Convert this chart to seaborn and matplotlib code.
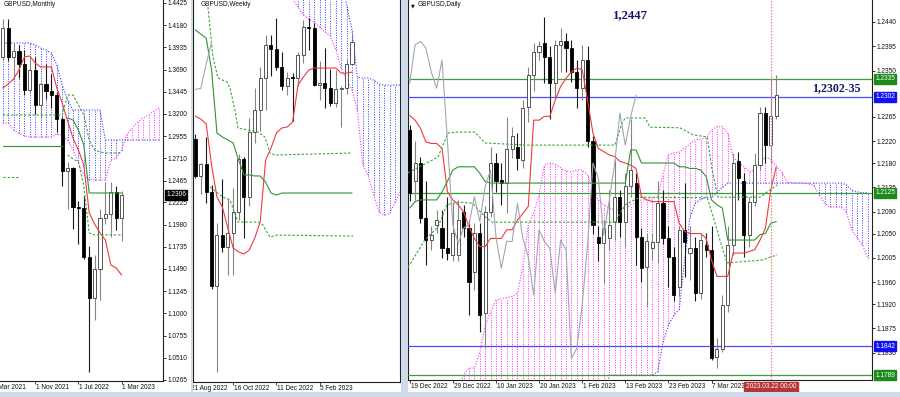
import numpy as np
import matplotlib
matplotlib.use("Agg")
import matplotlib.pyplot as plt
from matplotlib.patches import Rectangle
import seaborn as sns

sns.set_style("white")
plt.rcParams["font.family"] = ["Liberation Sans", "DejaVu Sans"]

W, H = 900, 397

# ======================= MONTHLY (May 2021 .. Mar 2023) =======================
m_open  = [1.3830, 1.4150, 1.3830, 1.3900, 1.3750, 1.3470, 1.3690, 1.3300, 1.3530, 1.3450, 1.3410, 1.3140,
           1.2570, 1.2600, 1.2170, 1.2165, 1.1620, 1.1170, 1.1490, 1.2050, 1.2100, 1.2340, 1.2050]
m_high  = [1.4250, 1.4250, 1.3985, 1.3960, 1.3910, 1.3830, 1.3830, 1.3550, 1.3750, 1.3640, 1.3440, 1.3170,
           1.2670, 1.2620, 1.2245, 1.2295, 1.1740, 1.1645, 1.2155, 1.2445, 1.2450, 1.2400, 1.2345]
m_low   = [1.3800, 1.3786, 1.3570, 1.3600, 1.3410, 1.3430, 1.3195, 1.3160, 1.3360, 1.3270, 1.3000, 1.2410,
           1.2155, 1.1930, 1.1760, 1.1600, 1.0350, 1.0925, 1.1145, 1.1990, 1.1840, 1.1915, 1.1800]
m_close = [1.4150, 1.3830, 1.3900, 1.3750, 1.3470, 1.3690, 1.3300, 1.3530, 1.3450, 1.3410, 1.3140, 1.2570,
           1.2600, 1.2170, 1.2165, 1.1620, 1.1170, 1.1490, 1.2050, 1.2100, 1.2340, 1.2050, 1.2306]
m_tenkan = [1.3487, 1.3531, 1.3586, 1.3686, 1.3829, 1.3840, 1.3763, 1.3719, 1.3719, 1.3719, 1.3487, 1.3321,
            1.3123, 1.2935, 1.2803, 1.2637, 1.2110, 1.1986, 1.1887, 1.1809, 1.1534, 1.1501, 1.1423]
m_kijun_a = [1.2847, 1.2847, 1.2847, 1.2847, 1.2847, 1.2847, 1.2847, 1.2847, 1.2847, 1.2847, 1.2847, 1.2847]
m_kijun_b = [1.3156, 1.3134, 1.3023, 1.2858, 1.2328, 1.2328, 1.2328, 1.2328, 1.2328, 1.2328, 1.2328]
m_dash1 = [1.3189, 1.3189, 1.3189, 1.3189, 1.3189, 1.3189, 1.3189, 1.3189, 1.3189, 1.3189, 1.3189, 1.3189,
           1.3410, 1.3410, 1.3299, 1.3189, 1.2913, 1.2803, 1.2781, 1.2770, 1.2770, 1.2770, 1.2770]
m_dash2a = [1.2505, 1.2505, 1.2505, 1.2505]
m_dash2b = [1.2748, 1.2704, 1.2670, 1.2410, 1.1887, 1.1865, 1.1865, 1.1865, 1.1865, 1.1865, 1.1865]
m_span_a = [1.3101, 1.3101, 1.3023, 1.2990, 1.2957, 1.2946, 1.2946, 1.2946, 1.2946, 1.2946, 1.2979, 1.2957,
            1.2913, 1.2803, 1.2659, 1.2527, 1.2472, 1.2472, 1.2472, 1.2472, 1.2692, 1.2714, 1.2803, 1.2979,
            1.3046, 1.3112, 1.3156, 1.3189, 1.3233, 1.3266]
m_span_b = [1.3983, 1.3983, 1.3983, 1.3983, 1.3983, 1.3983, 1.3961, 1.3928, 1.3906, 1.3873, 1.3741, 1.3520,
            1.3355, 1.3244, 1.3244, 1.3244, 1.3244, 1.3244, 1.3244, 1.2913, 1.2913, 1.2913, 1.2913, 1.2913,
            1.2913, 1.2913, 1.2913, 1.2913, 1.2913, 1.2913]
m_yticks = [1.4425, 1.4180, 1.3935, 1.3690, 1.3445, 1.3200, 1.2955, 1.2710, 1.2465, 1.2225,
            1.1980, 1.1735, 1.1490, 1.1245, 1.1000, 1.0755, 1.0510, 1.0265]
m_xtick_pos = [-2, 6, 14, 22]
m_xtick_lab = ["1 Mar 2021", "1 Nov 2021", "1 Jul 2022", "1 Mar 2023"]
m_last = 1.2306

# ======================= WEEKLY (28 Aug 2022 .. 19 Mar 2023) =======================
w_open  = [1.1730, 1.1510, 1.1585, 1.1415, 1.0860, 1.1160, 1.1090, 1.1175, 1.1300, 1.1610, 1.1385, 1.1770,
           1.1900, 1.2090, 1.2285, 1.2265, 1.2160, 1.2045, 1.2095, 1.2090, 1.2230, 1.2395, 1.2390, 1.2050,
           1.2062, 1.2030, 1.1945, 1.2025, 1.2030, 1.2175]
w_high  = [1.1760, 1.1590, 1.1740, 1.1460, 1.1235, 1.1495, 1.1380, 1.1440, 1.1645, 1.1625, 1.1855, 1.2030,
           1.2155, 1.2345, 1.2345, 1.2447, 1.2245, 1.2125, 1.2120, 1.2245, 1.2435, 1.2450, 1.2418, 1.2195,
           1.2270, 1.2145, 1.2140, 1.2045, 1.2205, 1.2345]
w_low   = [1.1500, 1.1405, 1.1350, 1.0840, 1.0350, 1.1060, 1.0925, 1.0925, 1.1250, 1.1145, 1.1335, 1.1710,
           1.1780, 1.1900, 1.2105, 1.2140, 1.2020, 1.1990, 1.1840, 1.2045, 1.2180, 1.2260, 1.2045, 1.1960,
           1.1915, 1.1925, 1.1920, 1.1800, 1.1995, 1.2170]
w_close = [1.1510, 1.1585, 1.1415, 1.0860, 1.1160, 1.1090, 1.1175, 1.1300, 1.1610, 1.1385, 1.1770, 1.1900,
           1.2090, 1.2285, 1.2265, 1.2160, 1.2045, 1.2095, 1.2090, 1.2230, 1.2395, 1.2390, 1.2050, 1.2062,
           1.2030, 1.1945, 1.2025, 1.2030, 1.2175, 1.2306]
w_tenkan = [1.1867, 1.1849, 1.1820, 1.1577, 1.1387, 1.1328, 1.1204, 1.1085, 1.1062, 1.1050, 1.1074, 1.1145,
            1.1239, 1.1606, 1.1677, 1.1766, 1.1796, 1.1802, 1.1831, 1.2050, 1.2098, 1.2139, 1.2151, 1.2151,
            1.2151, 1.2151, 1.2151, 1.2121, 1.2121, 1.2127]
w_kijun = [1.2376, 1.2352, 1.2329, 1.2139, 1.1766, 1.1743, 1.1725, 1.1707, 1.1606, 1.1518, 1.1518, 1.1512,
           1.1512, 1.1476, 1.1411, 1.1399, 1.1411, 1.1411, 1.1411, 1.1411, 1.1411, 1.1411, 1.1411, 1.1411,
           1.1411, 1.1411, 1.1411, 1.1411, 1.1411, 1.1411]
w_dash1_x = [2.33, 3.26, 4.19, 5.85, 6.41, 7.33, 7.89, 9.74, 11.6, 12.9, 13.8, 14.7, 29.0]
w_dash1_y = [1.2512, 1.2216, 1.2092, 1.2068, 1.2033, 1.1902, 1.1796, 1.1784, 1.1772, 1.1742, 1.1648, 1.1636, 1.1648]
w_dash2_x = [2.7, 5.1, 6.4, 7.9, 11.6, 12.5, 13.8, 15.1, 29.2]
w_dash2_y = [1.1447, 1.1387, 1.1370, 1.1239, 1.1239, 1.1222, 1.1151, 1.1162, 1.1156]
w_span_a = [1.2700, 1.2700, 1.2700, 1.2700, 1.2700, 1.2700, 1.2700, 1.2700, 1.2700, 1.2700, 1.2700, 1.2700,
            1.2700, 1.2700, 1.2700, 1.2700, 1.2700, 1.2700, 1.2560, 1.2512, 1.2465, 1.2441, 1.2423, 1.2394,
            1.2364, 1.2340, 1.2260, 1.2151, 1.2080, 1.2021, 1.1902, 1.1577, 1.1515, 1.1400, 1.1300, 1.1281,
            1.1290, 1.1360, 1.1420]
w_span_b = [1.2900, 1.2900, 1.2900, 1.2900, 1.2900, 1.2900, 1.2900, 1.2900, 1.2900, 1.2900, 1.2900, 1.2900,
            1.2900, 1.2900, 1.2900, 1.2900, 1.2900, 1.2900, 1.2700, 1.2700, 1.2700, 1.2700, 1.2700, 1.2700,
            1.2700, 1.2700, 1.2700, 1.2700, 1.2524, 1.2376, 1.2098, 1.2092, 1.2092, 1.2080, 1.2056, 1.2050,
            1.2050, 1.2050, 1.2050]
w_xtick_pos = [-1, 7, 15, 23]
w_xtick_lab = ["21 Aug 2022", "16 Oct 2022", "11 Dec 2022", "5 Feb 2023"]

# ======================= DAILY (19 Dec 2022 .. 23 Mar 2023) =======================
d_open  = [1.2241, 1.2146, 1.2180, 1.2078, 1.2038, 1.2066, 1.2060, 1.2023, 1.2011, 1.2011,
           1.2090, 1.2060, 1.1980, 1.2051, 1.1903, 1.2090, 1.2180, 1.2149, 1.2143, 1.2205,
           1.2210, 1.2186, 1.2284, 1.2342, 1.2385, 1.2401, 1.2376, 1.2327, 1.2398, 1.2404,
           1.2392, 1.2348, 1.2318, 1.2370, 1.2220, 1.2044, 1.2032, 1.2041, 1.2072, 1.2118,
           1.2072, 1.2137, 1.2143, 1.2044, 1.1989, 1.2023, 1.2035, 1.2106, 1.2041, 1.2007,
           1.1952, 1.2057, 1.2014, 1.2023, 1.1940, 1.2029, 1.2020, 1.1823, 1.1838, 1.1918,
           1.2029, 1.2183, 1.2146, 1.2047, 1.2109, 1.2177, 1.2272, 1.2213, 1.2266]
d_high  = [1.2250, 1.2220, 1.2192, 1.2146, 1.2063, 1.2093, 1.2093, 1.2118, 1.2106, 1.2112,
           1.2103, 1.2075, 1.2069, 1.2069, 1.2100, 1.2210, 1.2198, 1.2180, 1.2265, 1.2247,
           1.2235, 1.2296, 1.2357, 1.2401, 1.2404, 1.2450, 1.2395, 1.2407, 1.2428, 1.2419,
           1.2407, 1.2370, 1.2398, 1.2395, 1.2230, 1.2063, 1.2075, 1.2130, 1.2186, 1.2130,
           1.2161, 1.2262, 1.2161, 1.2060, 1.2051, 1.2051, 1.2146, 1.2130, 1.2063, 1.2026,
           1.2063, 1.2143, 1.2063, 1.2044, 1.2051, 1.2051, 1.2063, 1.1857, 1.1937, 1.2063,
           1.2198, 1.2201, 1.2161, 1.2118, 1.2198, 1.2284, 1.2284, 1.2337, 1.2343]
d_low   = [1.2110, 1.2112, 1.2069, 1.1992, 1.2020, 1.2051, 1.2005, 1.2002, 1.2000, 1.2000,
           1.2044, 1.1900, 1.1946, 1.1869, 1.1839, 1.2081, 1.2127, 1.2103, 1.2087, 1.2189,
           1.2167, 1.2170, 1.2256, 1.2312, 1.2370, 1.2327, 1.2262, 1.2302, 1.2348, 1.2348,
           1.2330, 1.2281, 1.2296, 1.2210, 1.2050, 1.2000, 1.1958, 1.2020, 1.2038, 1.2044,
           1.2026, 1.2118, 1.1992, 1.1961, 1.1915, 1.2002, 1.1995, 1.2030, 1.1952, 1.1925,
           1.1934, 1.1970, 1.1964, 1.1925, 1.1930, 1.2007, 1.1817, 1.1802, 1.1832, 1.1906,
           1.2010, 1.2112, 1.2007, 1.2026, 1.2100, 1.2167, 1.2180, 1.2180, 1.2262]
d_close = [1.2125, 1.2180, 1.2078, 1.2038, 1.2047, 1.2075, 1.2023, 1.2014, 1.2051, 1.2075,
           1.2060, 1.1961, 1.2051, 1.1900, 1.2090, 1.2180, 1.2146, 1.2143, 1.2205, 1.2229,
           1.2189, 1.2281, 1.2342, 1.2385, 1.2395, 1.2376, 1.2327, 1.2398, 1.2404, 1.2392,
           1.2348, 1.2318, 1.2370, 1.2220, 1.2066, 1.2032, 1.2060, 1.2066, 1.2118, 1.2072,
           1.2137, 1.2167, 1.2044, 1.1986, 1.2036, 1.2035, 1.2106, 1.2041, 1.2007, 1.1937,
           1.2057, 1.2035, 1.2023, 1.1940, 1.2038, 1.2020, 1.1820, 1.1838, 1.1918, 1.2029,
           1.2180, 1.2152, 1.2047, 1.2109, 1.2177, 1.2272, 1.2213, 1.2266, 1.2305]
d_tenkan = [1.2268, 1.2259, 1.2244, 1.2219, 1.2216, 1.2216, 1.2207, 1.2127, 1.2112, 1.2103,
            1.2090, 1.2063, 1.2041, 1.2026, 1.2026, 1.2041, 1.2041, 1.2041, 1.2057, 1.2057,
            1.2075, 1.2087, 1.2100, 1.2259, 1.2259, 1.2266, 1.2266, 1.2296, 1.2321, 1.2336,
            1.2348, 1.2355, 1.2352, 1.2296, 1.2235, 1.2207, 1.2201, 1.2195, 1.2192, 1.2183,
            1.2180, 1.2176, 1.2170, 1.2118, 1.2112, 1.2109, 1.2109, 1.2109, 1.2109, 1.2109,
            1.2069, 1.2054, 1.2050, 1.2050, 1.2050, 1.2041, 1.2001, 1.1971, 1.1971, 1.1971,
            1.2014, 1.2014, 1.2014, 1.2017, 1.2020, 1.2038, 1.2060, 1.2131, 1.2173]
d_kijun = [1.2097, 1.2109, 1.2112, 1.2112, 1.2112, 1.2112, 1.2127, 1.2146, 1.2167, 1.2173,
           1.2173, 1.2173, 1.2173, 1.2161, 1.2146, 1.2143, 1.2143, 1.2143, 1.2143, 1.2143,
           1.2143, 1.2143, 1.2143, 1.2143, 1.2143, 1.2143, 1.2143, 1.2143, 1.2143, 1.2143,
           1.2143, 1.2143, 1.2143, 1.2143, 1.2143, 1.2143, 1.2143, 1.2143, 1.2143, 1.2143,
           1.2143, 1.2204, 1.2204, 1.2180, 1.2180, 1.2180, 1.2180, 1.2180, 1.2180, 1.2180,
           1.2173, 1.2173, 1.2170, 1.2170, 1.2167, 1.2155, 1.2112, 1.2103, 1.2097, 1.2038,
           1.2038, 1.2038, 1.2038, 1.2038, 1.2038, 1.2048, 1.2050, 1.2069, 1.2072]
d_span_a = [1.1760, 1.1760, 1.1760, 1.1760, 1.1760, 1.1760, 1.1760, 1.1760, 1.1760, 1.1760,
            1.1790, 1.1802, 1.1802, 1.1830, 1.1880, 1.1905, 1.1927, 1.1930, 1.1932, 1.1934,
            1.1940, 1.1990, 1.2066, 1.2088, 1.2121, 1.2176, 1.2180, 1.2178, 1.2171, 1.2165,
            1.2164, 1.2167, 1.2167, 1.2158, 1.2130, 1.2112, 1.2103, 1.2097, 1.2094, 1.2094,
            1.2097, 1.2103, 1.2106, 1.2112, 1.2112, 1.2116, 1.2117, 1.2158, 1.2195, 1.2199,
            1.2200, 1.2208, 1.2215, 1.2223, 1.2224, 1.2226, 1.2241, 1.2247, 1.2247, 1.2235,
            1.2191, 1.2182, 1.2173, 1.2164, 1.2167, 1.2182, 1.2191, 1.2186, 1.2175, 1.2164,
            1.2145, 1.2143, 1.2143, 1.2143, 1.2142, 1.2138, 1.2121, 1.2105, 1.2099, 1.2099,
            1.2099, 1.2090, 1.2057, 1.2042, 1.2029, 1.2005]
d_span_b = [1.1700, 1.1700, 1.1700, 1.1700, 1.1700, 1.1700, 1.1700, 1.1700, 1.1700, 1.1700,
            1.1700, 1.1700, 1.1700, 1.1700, 1.1700, 1.1700, 1.1700, 1.1700, 1.1700, 1.1700,
            1.1700, 1.1700, 1.1700, 1.1700, 1.1700, 1.1700, 1.1700, 1.1700, 1.1700, 1.1700,
            1.1700, 1.1700, 1.1700, 1.1700, 1.1700, 1.1700, 1.1700, 1.1789, 1.1789, 1.1789,
            1.1789, 1.1789, 1.1789, 1.1789, 1.1789, 1.1789, 1.1795, 1.1850, 1.1880, 1.1900,
            1.1910, 1.2000, 1.2081, 1.2106, 1.2113, 1.2117, 1.2117, 1.2125, 1.2135, 1.2143,
            1.2143, 1.2143, 1.2143, 1.2143, 1.2143, 1.2143, 1.2143, 1.2143, 1.2143, 1.2143,
            1.2143, 1.2143, 1.2143, 1.2143, 1.2143, 1.2143, 1.2143, 1.2143, 1.2143, 1.2143,
            1.2143, 1.2140, 1.2130, 1.2127, 1.2125, 1.2125]
d_dash1_x = [-0.3, 5.25, 7.1, 8.4, 12.1, 14.0, 21.4, 38.1, 39.4, 40.0, 43.7, 44.6, 50.1, 52.6, 55.2, 56.1, 57.2, 65.0, 68.2]
d_dash1_y = [1.2162, 1.2191, 1.2235, 1.2237, 1.2237, 1.2217, 1.2213, 1.2213, 1.2254, 1.2263, 1.2263, 1.2246,
             1.2245, 1.2232, 1.2228, 1.2167, 1.2117, 1.2117, 1.2140]
d_dash2_x = [-0.3, 2.8, 5.25, 6.9, 9.0, 11.6, 14.0, 15.3, 38.1, 40.0, 42.7, 55.2, 56.1, 57.0, 58.1, 58.9, 65.4, 68.2]
d_dash2_y = [1.1988, 1.2038, 1.2062, 1.2103, 1.2108, 1.2106, 1.2081, 1.2071, 1.2071, 1.2103, 1.2117, 1.2116,
             1.2088, 1.2057, 1.2020, 1.1996, 1.2001, 1.2011]
d_levels = [1.2335, 1.2302, 1.2125, 1.1842, 1.1789]
d_level_kind = ["g", "b", "g", "b", "g"]
d_yticks = [1.2440, 1.2395, 1.2350, 1.2265, 1.2220, 1.2180, 1.2135, 1.2090, 1.2050,
            1.2005, 1.1960, 1.1920, 1.1875, 1.1830]
d_xtick_pos = [0, 8, 16, 24, 32, 40, 48, 56]
d_xtick_lab = ["19 Dec 2022", "29 Dec 2022", "10 Jan 2023", "20 Jan 2023",
               "1 Feb 2023", "13 Feb 2023", "23 Feb 2023", "7 Mar 2023"]
d_cross_idx = 67
d_cross_lab = "2023.03.22 00:00"
CHIKOU_SHIFT = 26

# ======================= styling =======================
C_TENKAN = "#f23a3a"
C_KIJUN = "#2f962f"
C_DASH = "#3aa53a"
C_CHIKOU = "#a0a7b0"
C_MAG = "#ff2cff"
C_BLUE = "#3a3aff"
C_LVL_G = "#3c9b3c"
C_LVL_B = "#4848ff"
TAG_G = "#1d8a1d"
TAG_B = "#1212f0"
DOT = (0, (1.0, 1.5))
DASH = (0, (2.2, 1.6))
FS = 4.7

fig = plt.figure(figsize=(W / 100, H / 100), dpi=100)
fig.patch.set_facecolor("white")


def add_ax(x0, y0, x1, y1):
    ax = fig.add_axes([x0 / W, 1 - y1 / H, (x1 - x0) / W, (y1 - y0) / H])
    ax.set_facecolor("white")
    for s in ax.spines.values():
        s.set_color("#202020")
        s.set_linewidth(0.8)
    ax.spines["top"].set_visible(False)
    return ax


def candles(ax, o, h, l, c, width, min_body):
    o, h, l, c = (np.asarray(v, float) for v in (o, h, l, c))
    x = np.arange(len(o))
    up = c >= o
    dn = ~up
    ax.vlines(x[up], l[up], h[up], colors="#858585", linewidth=0.8, zorder=4)
    ax.vlines(x[dn], l[dn], h[dn], colors="#1a1a1a", linewidth=0.8, zorder=4)
    body = np.maximum(np.abs(c - o), min_body)
    bot = np.minimum(o, c)
    ax.bar(x[up], body[up], bottom=bot[up], width=width, color="white",
           edgecolor="#3a3a3a", linewidth=0.6, zorder=5)
    ax.bar(x[dn], body[dn], bottom=bot[dn], width=width, color="black",
           edgecolor="black", linewidth=0.6, zorder=5)


def cloud(ax, a, b):
    a = np.asarray(a, float)
    b = np.asarray(b, float)
    x = np.arange(len(a))
    bull = a >= b
    ax.vlines(x[bull], b[bull], a[bull], colors=C_MAG, linewidth=0.7, linestyles=DOT, zorder=1)
    ax.vlines(x[~bull], a[~bull], b[~bull], colors=C_BLUE, linewidth=0.7, linestyles=DOT, zorder=1)
    ax.plot(x, a, color=C_MAG, lw=0.8, ls=DOT, zorder=1)
    ax.plot(x, b, color=C_BLUE, lw=0.8, ls=DOT, zorder=1)


def xlabels(ax, pos, labs, off):
    for p, t in zip(pos, labs):
        ax.annotate(t, xy=(p, 0), xycoords=("data", "axes fraction"), xytext=(0.6, -off),
                    textcoords="offset points", ha="left", va="center", fontsize=FS,
                    color="#111111", annotation_clip=False)
    ax.set_xticks([p for p in pos if ax.get_xlim()[0] <= p <= ax.get_xlim()[1]])
    ax.set_xticklabels([])
    ax.tick_params(axis="x", bottom=True, length=2.5, width=0.6, direction="out", color="#202020")


def tag(ax, price, text, fc):
    ax.annotate(text, xy=(1, price), xycoords=("axes fraction", "data"), xytext=(2.2, 0),
                textcoords="offset points", ha="left", va="center", fontsize=FS, color="white",
                bbox=dict(boxstyle="square,pad=0.22", fc=fc, ec=fc), annotation_clip=False, zorder=10)


# ----------------------------- MONTHLY panel -----------------------------
axm = add_ax(0, 0, 163, 381)
axm.spines["left"].set_visible(False)
cloud(axm, m_span_a, m_span_b)
candles(axm, m_open, m_high, m_low, m_close, 0.56, 0.0011)
sns.lineplot(x=np.arange(len(m_tenkan)), y=m_tenkan, ax=axm, color=C_TENKAN, linewidth=0.8, zorder=6)
sns.lineplot(x=np.arange(len(m_kijun_a)), y=m_kijun_a, ax=axm, color=C_KIJUN, linewidth=0.8, zorder=6)
sns.lineplot(x=np.arange(12, 12 + len(m_kijun_b)), y=m_kijun_b, ax=axm, color=C_KIJUN, linewidth=0.8, zorder=6)
axm.plot(np.arange(len(m_dash1)), m_dash1, color=C_DASH, lw=0.8, ls=DASH, zorder=6)
axm.plot(np.arange(len(m_dash2a)), m_dash2a, color=C_DASH, lw=0.8, ls=DASH, zorder=6)
axm.plot(np.arange(12, 12 + len(m_dash2b)), m_dash2b, color=C_DASH, lw=0.8, ls=DASH, zorder=6)
axm.set_xlim(-0.52, 29.67)
axm.set_ylim(1.0253, 1.4458)
axm.yaxis.tick_right()
axm.set_yticks(m_yticks)
axm.set_yticklabels([f"{v:.4f}" for v in m_yticks])
axm.tick_params(axis="y", right=True, left=False, length=2, width=0.6, pad=1.2, labelsize=FS,
                colors="#111111")
xlabels(axm, m_xtick_pos, m_xtick_lab, 4.4)
tag(axm, m_last, f"{m_last:.4f}", "#000000")
axm.set_xlabel("")
axm.set_ylabel("")

# ----------------------------- WEEKLY panel -----------------------------
axw = add_ax(193, 0, 400, 382)
cloud(axw, w_span_a, w_span_b)
candles(axw, w_open, w_high, w_low, w_close, 0.56, 0.0006)
sns.lineplot(x=np.arange(len(w_tenkan)), y=w_tenkan, ax=axw, color=C_TENKAN, linewidth=0.8, zorder=6)
sns.lineplot(x=np.arange(len(w_kijun)), y=w_kijun, ax=axw, color=C_KIJUN, linewidth=0.8, zorder=6)
axw.plot(w_dash1_x, w_dash1_y, color=C_DASH, lw=0.8, ls=DASH, zorder=6)
axw.plot(w_dash2_x, w_dash2_y, color=C_DASH, lw=0.8, ls=DASH, zorder=6)
w_ch = w_close[CHIKOU_SHIFT:]
sns.lineplot(x=np.arange(len(w_ch)), y=w_ch, ax=axw, color=C_CHIKOU, linewidth=0.8, zorder=6)
axw.set_xlim(-0.44, 37.89)
axw.set_ylim(1.0292, 1.2554)
axw.set_yticks([])
xlabels(axw, w_xtick_pos, w_xtick_lab, 4.4)
axw.set_xlabel("")
axw.set_ylabel("")

# ----------------------------- DAILY panel -----------------------------
axd = add_ax(408, 0, 872, 380)
cloud(axd, d_span_a, d_span_b)
for lv, k in zip(d_levels, d_level_kind):
    axd.axhline(lv, color=C_LVL_G if k == "g" else C_LVL_B, lw=0.9, zorder=3)
candles(axd, d_open, d_high, d_low, d_close, 0.58, 0.00018)
sns.lineplot(x=np.arange(len(d_tenkan)), y=d_tenkan, ax=axd, color=C_TENKAN, linewidth=0.8, zorder=6)
sns.lineplot(x=np.arange(len(d_kijun)), y=d_kijun, ax=axd, color=C_KIJUN, linewidth=0.8, zorder=6)
axd.plot(d_dash1_x, d_dash1_y, color=C_DASH, lw=0.8, ls=DASH, zorder=6)
axd.plot(d_dash2_x, d_dash2_y, color=C_DASH, lw=0.8, ls=DASH, zorder=6)
d_ch = d_close[CHIKOU_SHIFT:]
sns.lineplot(x=np.arange(len(d_ch)), y=d_ch, ax=axd, color=C_CHIKOU, linewidth=0.8, zorder=6)
axd.axvline(d_cross_idx, color="#e08a8a", lw=0.9, ls=(0, (1.2, 1.2)), zorder=7)
axd.set_xlim(-0.315, 85.77)
axd.set_ylim(1.1780, 1.24805)
axd.yaxis.tick_right()
axd.set_yticks(d_yticks)
axd.set_yticklabels([f"{v:.4f}" for v in d_yticks])
axd.tick_params(axis="y", right=True, left=False, length=2, width=0.6, pad=1.2, labelsize=FS,
                colors="#111111")
xlabels(axd, d_xtick_pos, d_xtick_lab, 5.0)
axd.annotate(d_cross_lab, xy=(d_cross_idx, 0), xycoords=("data", "axes fraction"), xytext=(0, -5.0),
             textcoords="offset points", ha="center", va="center", fontsize=FS, color="white",
             bbox=dict(boxstyle="square,pad=0.25", fc="#b83535", ec="#b83535"),
             annotation_clip=False, zorder=10)
for lv, k in zip(d_levels, d_level_kind):
    tag(axd, lv, f"{lv:.4f}", TAG_G if k == "g" else TAG_B)
axd.set_xlabel("")
axd.set_ylabel("")

# ----------------------------- texts -----------------------------
def ftext(x, y, s, **kw):
    fig.text(x / W, 1 - y / H, s, **kw)

ftext(4, 5, "GBPUSD,Monthly", fontsize=FS, va="center", ha="left", color="#111111")
ftext(201, 5, "GBPUSD,Weekly", fontsize=FS, va="center", ha="left", color="#111111")
ftext(411, 5.5, "\u25bc", fontsize=3.6, va="center", ha="left", color="#111111", family="DejaVu Sans")
ftext(418, 5, "GBPUSD,Daily", fontsize=FS, va="center", ha="left", color="#111111")
ftext(613, 15, "1,2447", fontsize=9.2, fontweight="bold", family="Liberation Serif",
      va="center", ha="left", color="#16166a")
ftext(812, 88, "1,2302-35", fontsize=8.6, fontweight="bold", family="Liberation Serif",
      va="center", ha="left", color="#16166a")

# ----------------------------- window borders -----------------------------
BORDER = "#cfdaea"
for (x0, y0, x1, y1) in [(190.5, 0, 193, 397), (400.6, 0, 407.6, 397), (0, 391.5, 900, 397)]:
    fig.patches.append(Rectangle((x0 / W, 1 - y1 / H), (x1 - x0) / W, (y1 - y0) / H,
                                 transform=fig.transFigure, fc=BORDER, ec="none", zorder=20))

fig.savefig("out.png", dpi=100, facecolor="white")
